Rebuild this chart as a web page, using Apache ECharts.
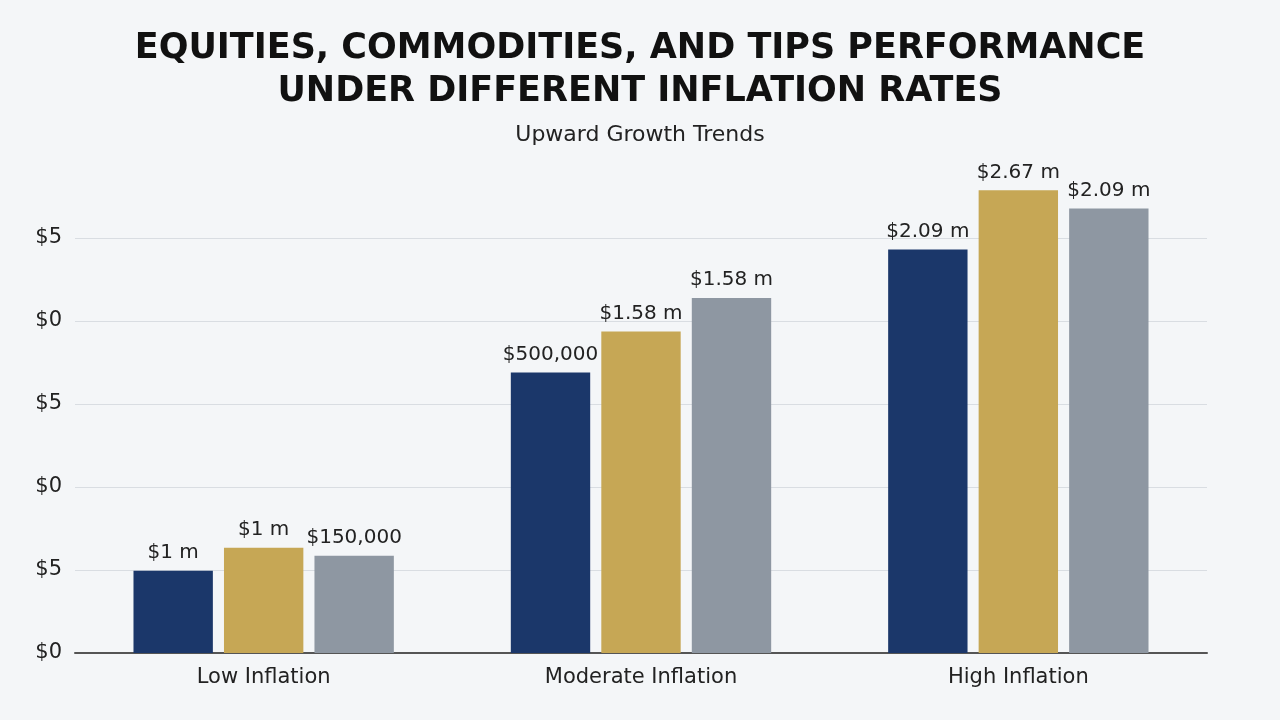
<!DOCTYPE html>
<html>
<head>
<meta charset="utf-8">
<script src="https://cdn.jsdelivr.net/npm/echarts@6/dist/echarts.min.js"></script>
<style>
  html, body { margin: 0; padding: 0; background: #f4f6f8; }
  #chart { width: 1280px; height: 720px; }
</style>
</head>
<body>
<div id="chart"></div>
<script>
// 数据
const categories = ['Low Inflation', 'Moderate Inflation', 'High Inflation'];
const equities = [4.95, 16.9, 24.3];
const commodities = [6.34, 19.36, 27.87];
const tips = [5.86, 21.39, 26.77];
const equitiesLabels = ['$1 m', '$500,000', '$2.09 m'];
const commoditiesLabels = ['$1 m', '$1.58 m', '$2.67 m'];
const tipsLabels = ['$150,000', '$1.58 m', '$2.09 m'];
const yTickLabels = ['$0', '$5', '$0', '$5', '$0', '$5', ''];

const FONT = 'DejaVu Sans';

function barSeries(name, values, labels, color) {
  return {
    name,
    type: 'bar',
    data: values,
    barGap: '14%',
    barCategoryGap: '31%',
    itemStyle: { color },
    label: {
      show: true,
      position: 'top',
      distance: 8,
      fontFamily: FONT,
      fontSize: 20,
      color: '#222',
      formatter: p => labels[p.dataIndex]
    }
  };
}

const chart = echarts.init(document.getElementById('chart'));
chart.setOption({
  backgroundColor: '#f4f6f8',
  animation: false,
  title: {
    text: 'EQUITIES, COMMODITIES, AND TIPS PERFORMANCE\nUNDER DIFFERENT INFLATION RATES',
    subtext: 'Upward Growth Trends',
    left: 'center',
    top: 22,
    itemGap: 11,
    textStyle: {
      fontFamily: FONT,
      fontWeight: 'bold',
      fontSize: 35,
      lineHeight: 43,
      color: '#111'
    },
    subtextStyle: {
      fontFamily: FONT,
      fontSize: 22,
      color: '#222'
    }
  },
  grid: { left: 75, right: 73, top: 155, bottom: 67 },
  xAxis: {
    type: 'category',
    data: categories,
    axisTick: { show: false },
    axisLine: { lineStyle: { color: '#555', width: 2 } },
    axisLabel: { fontFamily: FONT, fontSize: 21, color: '#222', margin: 14 }
  },
  yAxis: {
    type: 'value',
    min: 0,
    max: 30,
    interval: 5,
    axisLine: { show: false },
    axisTick: { show: false },
    axisLabel: {
      fontFamily: FONT,
      fontSize: 21,
      color: '#222',
      margin: 13,
      showMaxLabel: false,
      formatter: v => yTickLabels[Math.round(v / 5)]
    },
    splitLine: { showMaxLine: false, lineStyle: { color: '#d9dde2', width: 1 } }
  },
  series: [
    barSeries('Equities', equities, equitiesLabels, '#1b376a'),
    barSeries('Commodities', commodities, commoditiesLabels, '#c6a755'),
    barSeries('TIPS', tips, tipsLabels, '#8e97a2')
  ]
});
</script>
</body>
</html>
